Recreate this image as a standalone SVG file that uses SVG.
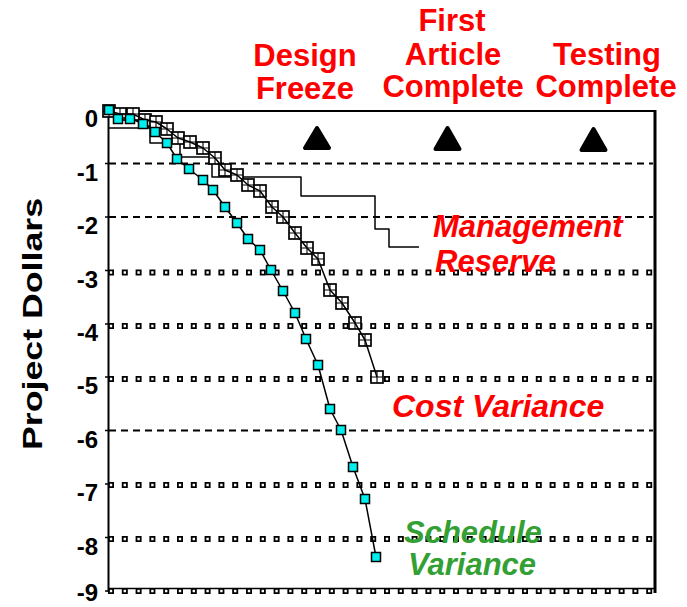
<svg xmlns="http://www.w3.org/2000/svg" width="687" height="607" viewBox="0 0 687 607">
<defs>
<style>
.lbl{font-family:"Liberation Sans",Arial,Helvetica,sans-serif;font-weight:bold;}
.red{fill:#ff0000;font-size:31px;}
.tick{font-size:24px;fill:#000;text-anchor:end;}
.dash{stroke:#000;stroke-width:2;stroke-dasharray:7 5;fill:none;}
.sqb{stroke:#000;stroke-width:6;stroke-dasharray:6 7.8;fill:none;}
.sqw{stroke:#fff;stroke-width:2.4;stroke-dasharray:2.4 11.4;stroke-dashoffset:-1.8;fill:none;}
.ser{fill:none;stroke:#000;stroke-width:1.5;stroke-linejoin:round;}
.tri{fill:#000;stroke:#000;stroke-width:4;stroke-linejoin:round;}
</style>
<g id="cvm">
<rect x="-6" y="-6" width="12" height="12" fill="#fff" stroke="#000" stroke-width="1.7"/>
<path d="M-6 0H6M0 -6V6" stroke="#000" stroke-width="1.1"/>
</g>
<rect id="svm" x="-4.5" y="-4.5" width="9" height="9" fill="#00eeee" stroke="#000" stroke-width="1.5"/>
</defs>
<rect width="687" height="607" fill="#fff"/>

<g id="grid">
<line class="dash" x1="109" y1="163.5" x2="653" y2="163.5"/>
<line class="dash" x1="109" y1="217" x2="653" y2="217"/>
<line class="dash" x1="109" y1="430.5" x2="653" y2="430.5"/>
<g>
<line class="sqb" x1="108" y1="272.5" x2="655" y2="272.5"/><line class="sqw" x1="108" y1="272.5" x2="655" y2="272.5"/>
<line class="sqb" x1="108" y1="326" x2="655" y2="326"/><line class="sqw" x1="108" y1="326" x2="655" y2="326"/>
<line class="sqb" x1="108" y1="379" x2="655" y2="379"/><line class="sqw" x1="108" y1="379" x2="655" y2="379"/>
<line class="sqb" x1="108" y1="485" x2="655" y2="485"/><line class="sqw" x1="108" y1="485" x2="655" y2="485"/>
<line class="sqb" x1="108" y1="539" x2="655" y2="539"/><line class="sqw" x1="108" y1="539" x2="655" y2="539"/>
<line class="sqb" x1="108" y1="591" x2="655" y2="591"/><line class="sqw" x1="108" y1="591" x2="655" y2="591"/>
</g>
<line x1="108" y1="588.5" x2="655" y2="588.5" stroke="#000" stroke-width="1.5"/>
<line x1="108" y1="111" x2="655" y2="111" stroke="#000" stroke-width="2"/>
<line x1="108.5" y1="110" x2="108.5" y2="592" stroke="#000" stroke-width="2"/>
<line x1="655" y1="110" x2="655" y2="593" stroke="#000" stroke-width="3"/>
<path d="M105 110H108M105 163.5H108M105 217H108M105 270.5H108M105 324H108M105 377H108M105 430.5H108M105 484H108M105 537.5H108M105 591H108" stroke="#000" stroke-width="1.5"/>
</g>

<g id="axis-labels" class="lbl">
<text class="tick" x="98" y="127">0</text>
<text class="tick" x="98" y="180.5">-1</text>
<text class="tick" x="98" y="234">-2</text>
<text class="tick" x="98" y="287.5">-3</text>
<text class="tick" x="98" y="341">-4</text>
<text class="tick" x="98" y="394">-5</text>
<text class="tick" x="98" y="447.5">-6</text>
<text class="tick" x="98" y="501">-7</text>
<text class="tick" x="98" y="554.5">-8</text>
<text class="tick" x="98" y="601">-9</text>
<text x="0" y="0" transform="translate(42,324) rotate(-90)" text-anchor="middle" font-size="27" textLength="252" lengthAdjust="spacingAndGlyphs">Project Dollars</text>
</g>

<g id="connectors">
<path id="management-reserve" class="ser" d="M108 128H150V143H180V157H212V177H301V196H375V229H389V247H419"/>
<g id="cost-variance">
<use href="#cvm" x="109" y="111"/><use href="#cvm" x="120" y="114"/><use href="#cvm" x="133" y="114"/>
<use href="#cvm" x="145" y="120"/><use href="#cvm" x="156" y="122"/><use href="#cvm" x="167" y="129"/>
<use href="#cvm" x="178" y="138"/><use href="#cvm" x="190" y="142"/><use href="#cvm" x="203" y="148"/>
<use href="#cvm" x="215" y="158"/><use href="#cvm" x="225" y="170"/><use href="#cvm" x="237" y="175"/>
<use href="#cvm" x="248" y="185"/><use href="#cvm" x="260" y="191"/><use href="#cvm" x="272" y="207"/>
<use href="#cvm" x="283" y="217"/><use href="#cvm" x="295" y="233"/><use href="#cvm" x="307" y="248"/>
<use href="#cvm" x="318" y="259"/><use href="#cvm" x="330" y="290"/><use href="#cvm" x="342" y="303"/>
<use href="#cvm" x="355" y="323"/><use href="#cvm" x="365" y="340"/><use href="#cvm" x="377" y="377"/>
<polyline class="ser" points="109,111 120,114 133,114 145,120 156,122 167,129 178,138 190,142 203,148 215,158 225,170 237,175 248,185 260,191 272,207 283,217 295,233 307,248 318,259 330,290 342,303 355,323 365,340 377,377"/>
</g>
<g id="schedule-variance">
<polyline class="ser" points="109,111 118,118 130,118 143,124 155,132 167,143 177,159 189,169 203,180 213,190 225,207 237,223 248,239 260,250 271,270 283,291 295,313 306,339 318,365 330,409 341,430 353,467 365,499 376,557"/>
<use href="#svm" x="109" y="110"/><use href="#svm" x="118" y="119"/><use href="#svm" x="130" y="119"/>
<use href="#svm" x="143" y="124"/><use href="#svm" x="155" y="132"/><use href="#svm" x="167" y="143"/>
<use href="#svm" x="177" y="159"/><use href="#svm" x="189" y="169"/><use href="#svm" x="203" y="180"/>
<use href="#svm" x="213" y="190"/><use href="#svm" x="225" y="207"/><use href="#svm" x="237" y="223"/>
<use href="#svm" x="248" y="239"/><use href="#svm" x="260" y="250"/><use href="#svm" x="271" y="270"/>
<use href="#svm" x="283" y="291"/><use href="#svm" x="295" y="313"/><use href="#svm" x="306" y="339"/>
<use href="#svm" x="318" y="365"/><use href="#svm" x="330" y="409"/><use href="#svm" x="341" y="430"/>
<use href="#svm" x="353" y="467"/><use href="#svm" x="365" y="499"/><use href="#svm" x="376" y="557"/>
</g>
</g>

<g id="milestone-design-freeze">
<polygon class="tri" points="317,128 305,148 329,148"/>
<text class="lbl red" x="305" y="66" text-anchor="middle">Design</text>
<text class="lbl red" x="305" y="99" text-anchor="middle">Freeze</text>
</g>
<g id="milestone-first-article">
<polygon class="tri" points="447.5,128 435.5,149 459.5,149"/>
<text class="lbl red" x="452" y="31" text-anchor="middle">First</text>
<text class="lbl red" x="453" y="65" text-anchor="middle">Article</text>
<text class="lbl red" x="453" y="97" text-anchor="middle">Complete</text>
</g>
<g id="milestone-testing-complete">
<polygon class="tri" points="593.5,129 581.5,150 605.5,150"/>
<text class="lbl red" x="607" y="65" text-anchor="middle">Testing</text>
<text class="lbl red" x="606" y="97" text-anchor="middle">Complete</text>
</g>

<g id="label-management-reserve" class="lbl">
<text class="red" x="433" y="237" font-style="italic" font-size="31.5">Management</text>
<text class="red" x="435" y="272" font-style="italic" font-size="31.5">Reserve</text>
</g>
<g id="label-cost-variance" class="lbl">
<text class="red" x="392" y="417" font-style="italic" style="font-size:32px">Cost Variance</text>
</g>
<g id="label-schedule-variance" class="lbl">
<text x="404" y="543" font-size="31" font-style="italic" fill="#33a033">Schedule</text>
<text x="408" y="575" font-size="31" font-style="italic" fill="#33a033">Variance</text>
</g>
</svg>
